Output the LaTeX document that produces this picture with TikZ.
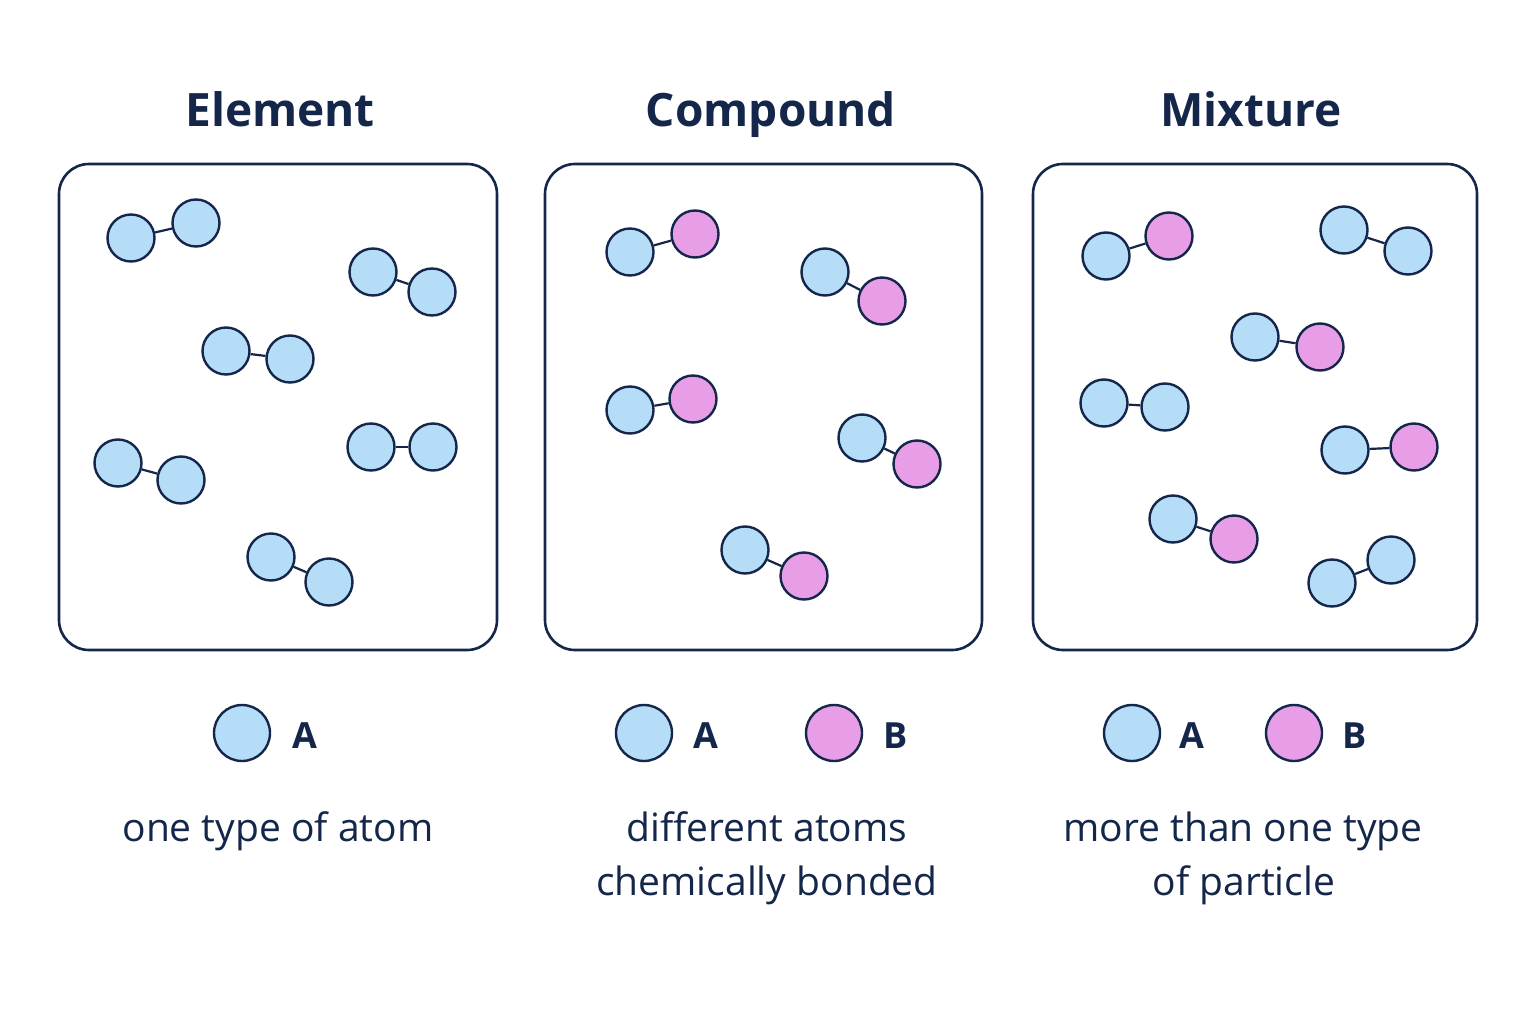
\documentclass[tikz,border=0pt]{standalone}
\usepackage{fontspec}
\setmainfont{Open Sans}
\begin{document}
\begin{tikzpicture}[x=1pt,y=-1pt,
  ink/.style={draw=navy,line width=2.6pt},
  box/.style={ink,rounded corners=30pt},
  A/.style={circle,draw=navy,line width=2.4pt,fill=blueA,minimum size=47pt,inner sep=0pt},
  B/.style={A,fill=pinkB},
  LA/.style={A,minimum size=56pt},
  LB/.style={B,minimum size=56pt},
  bond/.style={draw=navy,line width=2.2pt},
  title/.style={font=\fontsize{46}{56}\selectfont\bfseries,text=navy,anchor=base},
  lbl/.style={font=\fontsize{36}{44}\selectfont\bfseries,text=navy,anchor=base},
  desc/.style={font=\fontsize{39}{54}\selectfont,text=navy,anchor=base}]
\definecolor{navy}{HTML}{14264A}
\definecolor{blueA}{HTML}{B5DDF8}
\definecolor{pinkB}{HTML}{E89EE6}
\useasboundingbox (0,0) rectangle (1536,1024);
\fill[white] (0,0) rectangle (1536,1024);
\node[title] (t1) at (280,127) {Element};
\node[title] (t2) at (771,127) {Compound};
\node[title] (t3) at (1251,127) {Mixture};
\draw[box] (59,164) rectangle (497,650);
\draw[box] (545,164) rectangle (982,650);
\draw[box] (1033,164) rectangle (1477,650);
\newcommand{\mol}[6]{\node[#1] (#6a) at (#2) {};\node[#3] (#6b) at (#4) {};\draw[bond] (#6a) -- (#6b);}
% Element
\mol{A}{131,238}{A}{196,223}{}{e1}
\mol{A}{373,272}{A}{432,292}{}{e2}
\mol{A}{226,351}{A}{290,359}{}{e3}
\mol{A}{118,463}{A}{181,480}{}{e4}
\mol{A}{371,447}{A}{433,447}{}{e5}
\mol{A}{271,557}{A}{329,582}{}{e6}
% Compound
\mol{A}{630,252}{B}{695,234}{}{c1}
\mol{A}{825,272}{B}{882,301}{}{c2}
\mol{A}{630,410}{B}{693,399}{}{c3}
\mol{A}{862,438}{B}{917,464}{}{c4}
\mol{A}{745,550}{B}{804,576}{}{c5}
% Mixture
\mol{A}{1106,256}{B}{1169,236}{}{m1}
\mol{A}{1344,230}{A}{1408,251}{}{m2}
\mol{A}{1255,337}{B}{1320,347}{}{m3}
\mol{A}{1104,403}{A}{1165,407}{}{m4}
\mol{A}{1345,450}{B}{1414,447}{}{m5}
\mol{A}{1173,519}{B}{1234,539}{}{m6}
\mol{A}{1332,583}{A}{1391,560}{}{m7}
% Legends
\node[LA] (l1) at (242,733) {}; \node[lbl] (l1t) at (305,748) {A};
\node[LA] (l2) at (644,733) {}; \node[lbl] (l2t) at (706,748) {A};
\node[LB] (l3) at (834,733) {}; \node[lbl] (l3t) at (896,748) {B};
\node[LA] (l4) at (1132,733) {}; \node[lbl] (l4t) at (1192,748) {A};
\node[LB] (l5) at (1294,733) {}; \node[lbl] (l5t) at (1355,748) {B};
\node[desc] (d1) at (278,841) {one type of atom};
\node[desc] (d2) at (767,841) {different atoms};
\node[desc] (d2b) at (767,895) {chemically bonded};
\node[desc] (d3) at (1243,841) {more than one type};
\node[desc] (d3b) at (1244,895) {of particle};
\end{tikzpicture}
\end{document}
